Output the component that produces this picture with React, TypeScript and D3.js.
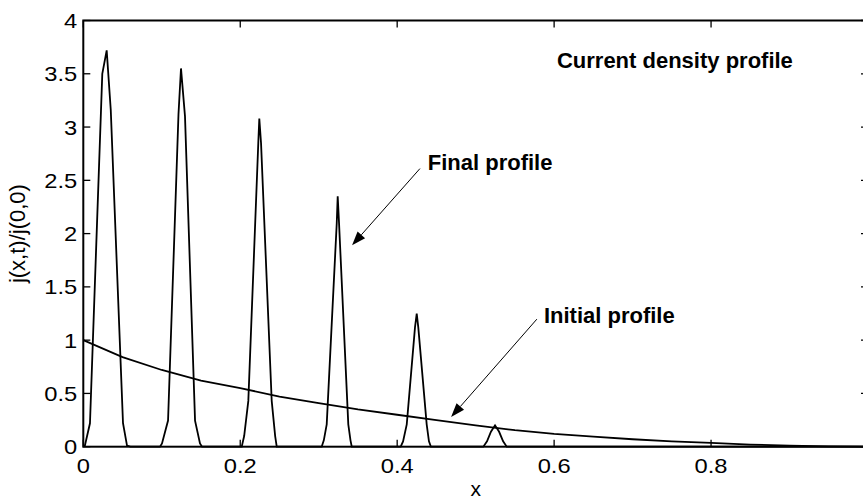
import React from "react";
import * as d3 from "d3";

// final current density profile (x, j/j0)
const finalX = [
  0, 0.002, 0.0085, 0.0242, 0.0298, 0.035, 0.0506, 0.0557, 0.06,
  0.0978, 0.1003, 0.108, 0.1213, 0.1245, 0.1296, 0.1424, 0.1487, 0.1513,
  0.2019, 0.205, 0.2103, 0.223, 0.2243, 0.2265, 0.2401, 0.2445, 0.2465,
  0.3038, 0.3065, 0.3102, 0.323, 0.3242, 0.3259, 0.3377, 0.3405, 0.3421,
  0.4045, 0.4075, 0.4122, 0.4227, 0.4249, 0.4269, 0.4376, 0.4405, 0.443,
  0.5098, 0.5145, 0.5195, 0.5247, 0.5299, 0.535, 0.5396, 1.0,
];
const finalY = [
  0, 0.01, 0.22, 3.5, 3.72, 3.16, 0.22, 0.01, 0,
  0, 0.03, 0.245, 3.12, 3.55, 3.1, 0.245, 0.03, 0,
  0, 0.1, 0.43, 2.85, 3.08, 2.85, 0.43, 0.1, 0,
  0, 0.06, 0.21, 2.1, 2.35, 2.1, 0.21, 0.06, 0,
  0, 0.05, 0.21, 1.12, 1.25, 1.12, 0.21, 0.05, 0,
  0, 0.05, 0.14, 0.2, 0.14, 0.05, 0, 0,
];

// initial profile
const initialX = [
  0, 0.05, 0.1, 0.15, 0.2, 0.25, 0.3, 0.35, 0.4, 0.45, 0.5,
  0.55, 0.6, 0.65, 0.7, 0.75, 0.8, 0.85, 0.9, 0.95, 1.0,
];
const initialY = [
  1.0, 0.84, 0.72, 0.62, 0.55, 0.47, 0.41, 0.35, 0.3, 0.25, 0.2,
  0.155, 0.12, 0.095, 0.07, 0.05, 0.036, 0.02, 0.01, 0.003, 0,
];

const xTicks = [0, 0.2, 0.4, 0.6, 0.8, 1];
const xTickLabels = ["0", "0.2", "0.4", "0.6", "0.8", ""];
const yTicks = [0, 0.5, 1, 1.5, 2, 2.5, 3, 3.5, 4];
const yTickLabels = ["0", "0.5", "1", "1.5", "2", "2.5", "3", "3.5", "4"];

// annotations in data units
const finalNote = { text: "Final profile", x: 0.439, y: 2.6, from: [0.429, 2.61], to: [0.3425, 1.89] };
const initialNote = { text: "Initial profile", x: 0.587, y: 1.16, from: [0.578, 1.197], to: [0.4687, 0.278] };
const titleNote = { text: "Current density profile", x: 0.6036, y: 3.55 };

const W = 863;
const H = 502;
const M = { left: 83.3, right: 868, top: 20.5, bottom: 446.7 };
const FONT = "'Liberation Sans', Arial, Helvetica, sans-serif";
const SX = 1.13; // tick labels look a bit wide in the original

function Arrow({ x1, y1, x2, y2 }: { x1: number; y1: number; x2: number; y2: number }) {
  const a = Math.atan2(y2 - y1, x2 - x1);
  const len = 14;
  const hw = 5;
  const bx = x2 - len * Math.cos(a);
  const by = y2 - len * Math.sin(a);
  const px = -Math.sin(a) * hw;
  const py = Math.cos(a) * hw;
  return (
    <g>
      <line x1={x1} y1={y1} x2={bx} y2={by} stroke="black" strokeWidth={1} />
      <polygon
        points={`${x2},${y2} ${bx + px},${by + py} ${bx - px},${by - py}`}
        fill="black"
      />
    </g>
  );
}

export default function App() {
  const x = d3.scaleLinear().domain([0, 1]).range([M.left, M.right]);
  const y = d3.scaleLinear().domain([0, 4]).range([M.bottom, M.top]);

  const line = d3
    .line<[number, number]>()
    .x((d) => x(d[0]))
    .y((d) => y(d[1]));

  const finalPts = finalX.map((v, i) => [v, finalY[i]] as [number, number]);
  const initPts = initialX.map((v, i) => [v, initialY[i]] as [number, number]);

  const tick = 7;

  return (
    <div style={{ position: "absolute", left: 0, top: 0 }}>
      <svg width={W} height={H} style={{ display: "block", background: "white" }} fontFamily={FONT}>
        <rect x={0} y={0} width={W} height={H} fill="white" />

        {/* data */}
        <path d={line(initPts) ?? ""} fill="none" stroke="black" strokeWidth={1.8} />
        <path d={line(finalPts) ?? ""} fill="none" stroke="black" strokeWidth={1.8} />

        {/* box */}
        <rect
          x={M.left}
          y={M.top}
          width={M.right - M.left}
          height={M.bottom - M.top}
          fill="none"
          stroke="black"
          strokeWidth={2}
        />

        {/* x ticks */}
        {xTicks.map((t, i) => (
          <g key={"x" + i}>
            <line x1={x(t)} x2={x(t)} y1={M.bottom} y2={M.bottom - tick} stroke="black" strokeWidth={1.3} />
            <line x1={x(t)} x2={x(t)} y1={M.top} y2={M.top + tick} stroke="black" strokeWidth={1.3} />
            <text
              transform={`translate(${x(t)},${M.bottom + 26}) scale(${SX},1)`}
              fontSize={21}
              textAnchor="middle"
            >
              {xTickLabels[i]}
            </text>
          </g>
        ))}

        {/* y ticks */}
        {yTicks.map((t, i) => (
          <g key={"y" + i}>
            <line x1={M.left} x2={M.left + tick} y1={y(t)} y2={y(t)} stroke="black" strokeWidth={1.3} />
            <line x1={M.right} x2={M.right - tick} y1={y(t)} y2={y(t)} stroke="black" strokeWidth={1.3} />
            <text
              transform={`translate(${M.left - 6},${y(t)}) scale(${SX},1)`}
              dy="0.36em"
              fontSize={21}
              textAnchor="end"
            >
              {yTickLabels[i]}
            </text>
          </g>
        ))}

        {/* axis labels */}
        <text x={x(0.5)} y={496} fontSize={21} textAnchor="middle">
          x
        </text>
        <text
          transform={`translate(25,${(M.top + M.bottom) / 2}) rotate(-90)`}
          fontSize={22}
          textAnchor="middle"
        >
          j(x,t)/j(0,0)
        </text>

        {/* annotations */}
        <text x={x(titleNote.x)} y={y(titleNote.y)} fontSize={22} fontWeight="bold">
          {titleNote.text}
        </text>
        <text x={x(finalNote.x)} y={y(finalNote.y)} fontSize={22} fontWeight="bold">
          {finalNote.text}
        </text>
        <Arrow
          x1={x(finalNote.from[0])}
          y1={y(finalNote.from[1])}
          x2={x(finalNote.to[0])}
          y2={y(finalNote.to[1])}
        />
        <text x={x(initialNote.x)} y={y(initialNote.y)} fontSize={22} fontWeight="bold">
          {initialNote.text}
        </text>
        <Arrow
          x1={x(initialNote.from[0])}
          y1={y(initialNote.from[1])}
          x2={x(initialNote.to[0])}
          y2={y(initialNote.to[1])}
        />
      </svg>
    </div>
  );
}
